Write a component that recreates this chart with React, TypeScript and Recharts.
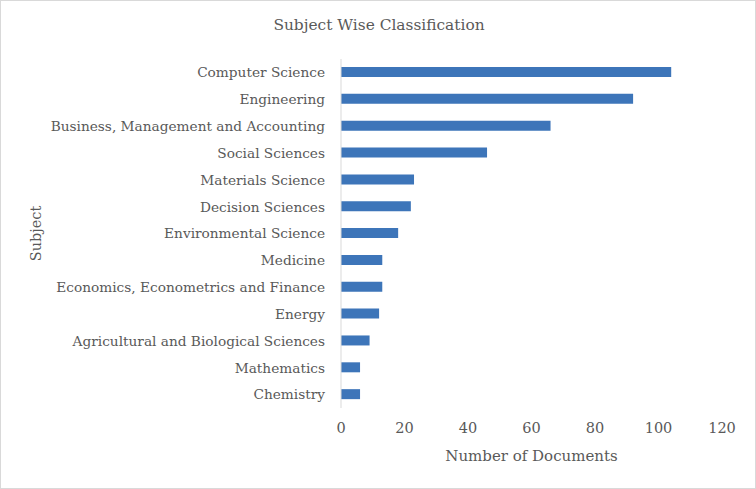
import React from "react";
import { BarChart, Bar, XAxis, YAxis } from "recharts";

const subjects = [
  "Computer Science",
  "Engineering",
  "Business, Management and Accounting",
  "Social Sciences",
  "Materials Science",
  "Decision Sciences",
  "Environmental Science",
  "Medicine",
  "Economics, Econometrics and Finance",
  "Energy",
  "Agricultural and Biological Sciences",
  "Mathematics",
  "Chemistry",
];

const documents = [104, 92, 66, 46, 23, 22, 18, 13, 13, 12, 9, 6, 6];

const xTicks = [0, 20, 40, 60, 80, 100, 120];

const data = subjects.map((subject, i) => ({ subject, documents: documents[i] }));

const font = "'DejaVu Serif', serif";
const textColor = "#595959";

const SubjectLabel = (props: any) => {
  const vb = props.viewBox || {};
  const cx = 35;
  const cy = vb.y + vb.height / 2;
  return (
    <text
      x={cx}
      y={cy}
      transform={`rotate(-90, ${cx}, ${cy})`}
      textAnchor="middle"
      dominantBaseline="central"
      fill={textColor}
      fontFamily={font}
      fontSize={14.5}
    >
      Subject
    </text>
  );
};

const App: React.FC = () => {
  return (
    <div
      style={{
        position: "absolute",
        left: 0,
        top: 0,
        width: 756,
        height: 489,
        background: "#fff",
        border: "1px solid #d9d9d9",
        boxSizing: "border-box",
        fontFamily: font,
      }}
    >
      <div
        style={{
          position: "absolute",
          top: 15,
          left: 0,
          width: 756,
          textAlign: "center",
          fontSize: 15.4,
          color: textColor,
        }}
      >
        Subject Wise Classification
      </div>
      <BarChart
        width={754}
        height={487}
        data={data}
        layout="vertical"
        barSize={10}
        margin={{ top: 58, right: 33, left: 0, bottom: 20 }}
        style={{ position: "absolute", left: 0, top: 0 }}
      >
        <XAxis
          type="number"
          domain={[0, 120]}
          ticks={xTicks}
          axisLine={false}
          tickLine={false}
          tickMargin={9}
          height={60}
          tick={{ fill: textColor, fontFamily: font, fontSize: 14.5 }}
          label={{
            value: "Number of Documents",
            position: "insideBottom",
            offset: 7,
            fill: textColor,
            fontFamily: font,
            fontSize: 15,
          }}
        />
        <YAxis
          type="category"
          dataKey="subject"
          width={340}
          interval={0}
          tickLine={false}
          tickMargin={10}
          axisLine={{ stroke: "#d9d9d9" }}
          tick={{ fill: textColor, fontFamily: font, fontSize: 13.7 }}
          label={<SubjectLabel />}
        />
        <Bar dataKey="documents" fill="#3d75b9" isAnimationActive={false} />
      </BarChart>
    </div>
  );
};

export default App;
